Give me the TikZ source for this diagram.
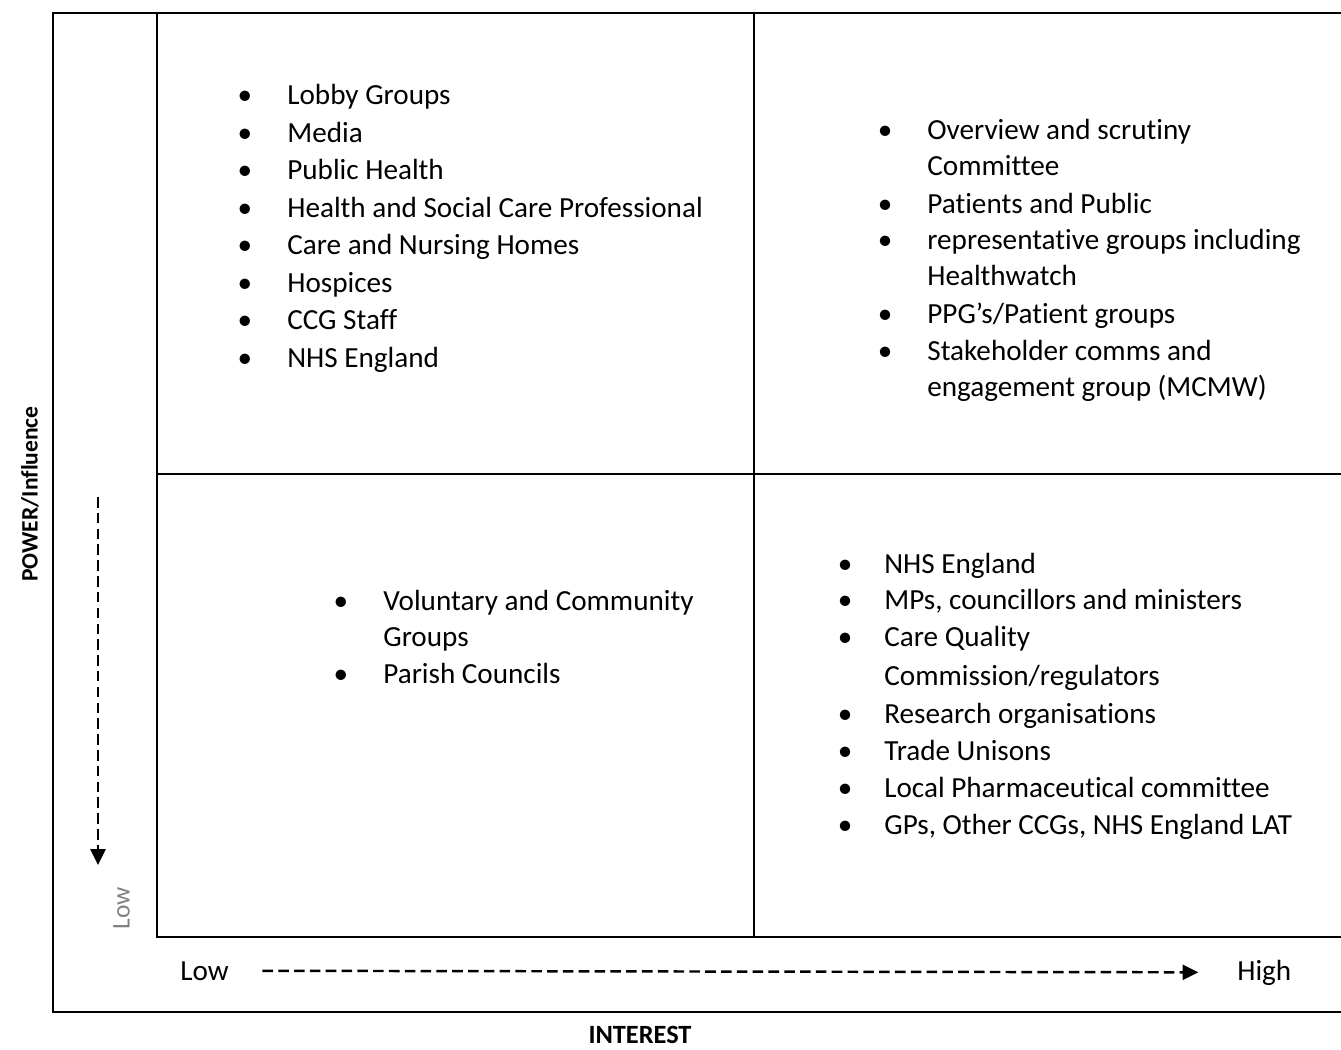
\documentclass[tikz,border=0pt]{standalone}
\usepackage{fontspec}
\setmainfont{Carlito}[Ligatures=NoCommon]
\usepackage{xcolor}
\usetikzlibrary{arrows.meta}
\definecolor{axisgrey}{RGB}{128,128,128}

\begin{document}
\begin{tikzpicture}[
    x=0.02cm, y=-0.02cm,
    frameline/.style={line width=1.5pt},
    item/.style={anchor=base west, inner sep=0pt, font=\fontsize{16.6}{20}\selectfont},
    dot/.style={anchor=base, inner sep=0pt, font=\fontsize{16.6}{20}\selectfont},
    axislabel/.style={inner sep=0pt, font=\fontsize{13.4}{16}\selectfont\bfseries},
    axisarrow/.style={-{Triangle[length=9pt,width=8.5pt]}, line width=1.4pt,
                      dash pattern=on 6pt off 3pt}
]
    \useasboundingbox (0,0) rectangle (1341,1050);

    % outer frame (open to the right)
    \draw[frameline] (1341,13) -- (53,13) -- (53,1012) -- (1341,1012);
    % the four quadrants
    \draw[frameline] (1341,13) -- (157,13) -- (157,937) -- (1341,937);
    \draw[frameline] (754,13) -- (754,937);
    \draw[frameline] (157,474) -- (1341,474);

    % high power, low interest
    \foreach \yy/\txt [count=\i] in {105/Lobby Groups, 142.5/Media, 180/Public Health,
        217.5/Health and Social Care Professional, 255/Care and Nursing Homes,
        292.5/Hospices, 330/CCG Staff, 367.5/NHS England} {
        \node[item] (tl\i) at (287,\yy) {\txt};
        \node[dot] (tldot\i) at (245,\yy) {\textbullet};
    }

    % high power, high interest
    \foreach \yy/\txt [count=\i] in {140/Overview and scrutiny, 214/Patients and Public,
        250/representative groups including, 324/{PPG’s/Patient groups},
        361/Stakeholder comms and} {
        \node[item] (tr\i) at (927,\yy) {\txt};
        \node[dot] (trdot\i) at (885,\yy) {\textbullet};
    }
    \node[item] (tr1b) at (927,176) {Committee};
    \node[item] (tr3b) at (927,286) {Healthwatch};
    \node[item] (tr5b) at (927,397) {engagement group (MCMW)};

    % low power, low interest
    \node[item] (bl1) at (383,610) {Voluntary and Community};
    \node[dot] (bldot1) at (341,610) {\textbullet};
    \node[item] (bl1b) at (383,646) {Groups};
    \node[item] (bl2) at (383,683) {Parish Councils};
    \node[dot] (bldot2) at (341,683) {\textbullet};

    % low power, high interest
    \foreach \yy/\txt [count=\i] in {573/NHS England, 609/{MPs, councillors and ministers},
        646/Care Quality, 723/Research organisations, 760/Trade Unisons,
        797/Local Pharmaceutical committee, 834/{GPs, Other CCGs, NHS England LAT}} {
        \node[item] (br\i) at (884,\yy) {\txt};
        \node[dot] (brdot\i) at (845,\yy) {\textbullet};
    }
    \node[item] (br3b) at (884,685) {Commission/regulators};

    % axes
    \node[item] (lowx) at (180,980) {Low};
    \node[item] (highx) at (1237,980) {High};
    \draw[axisarrow, shorten <=19pt, shorten >=22pt] (lowx.east) -- (highx.west);

    \node[inner sep=0pt, rotate=90, text=axisgrey, font=\fontsize{14.5}{17}\selectfont]
        (lowy) at (121.5,908) {Low};
    \coordinate (ytop) at (98,497);
    \coordinate (ybot) at (98,865);
    \draw[axisarrow] (ytop) -- (ybot);

    \node[axislabel, rotate=90] (power) at (30,494) {POWER/Influence};
    \node[axislabel, anchor=base, font=\fontsize{15}{18}\selectfont\bfseries]
        (interest) at (640,1043) {INTEREST};
\end{tikzpicture}
\end{document}
